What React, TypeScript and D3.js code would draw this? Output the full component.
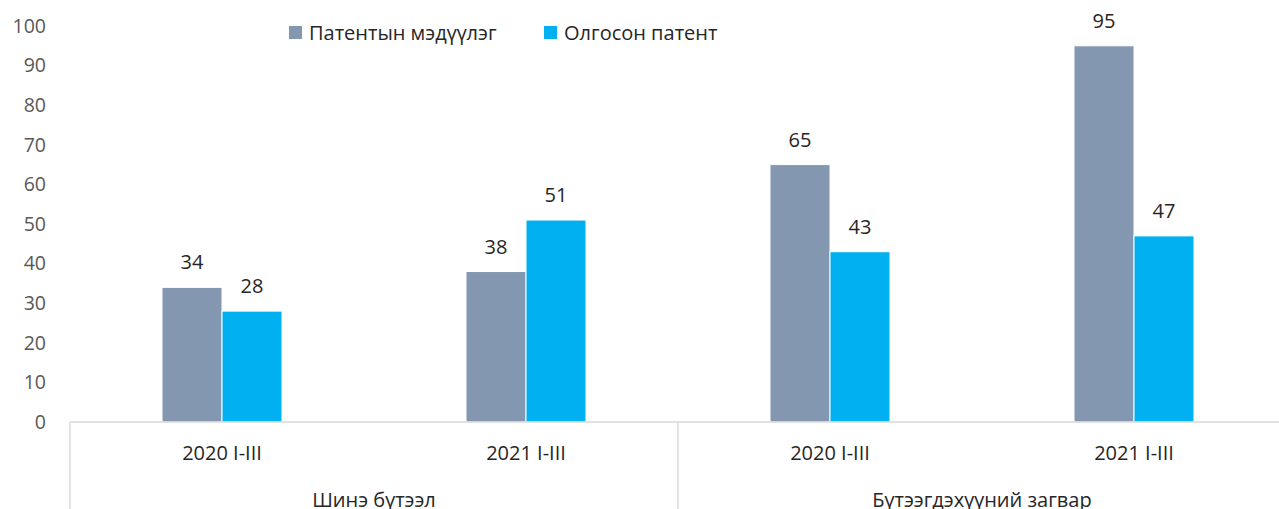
import React from "react";
import * as d3 from "d3";

const groups = ["Шинэ бүтээл", "Бүтээгдэхүүний загвар"];
const periods = ["2020 I-III", "2021 I-III", "2020 I-III", "2021 I-III"];
const categoryGroup = [0, 0, 1, 1];
const seriesNames = ["Патентын мэдүүлэг", "Олгосон патент"];
const applications = [34, 38, 65, 95];
const granted = [28, 51, 43, 47];
const yTicks = [0, 10, 20, 30, 40, 50, 60, 70, 80, 90, 100];
const colors = ["#8497B0", "#00B0F0"];

export default function App() {
  const W = 1279, H = 509;
  const left = 70, right = 1286, top = 26, bottom = 422;
  const x = d3.scaleBand<number>().domain(d3.range(periods.length)).range([left, right]).paddingInner(0).paddingOuter(0);
  const y = d3.scaleLinear().domain([0, 100]).range([bottom, top]);
  const bw = 60;
  const series = [applications, granted];
  const font = "'Open Sans', 'Segoe UI', sans-serif";
  const groupSpans = groups.map((g, gi) => {
    const idx = categoryGroup.map((c, i) => (c === gi ? i : -1)).filter((i) => i >= 0);
    const x0 = x(idx[0])!;
    const x1 = x(idx[idx.length - 1])! + x.bandwidth();
    return { g, x0, x1 };
  });
  return (
    <svg width={W} height={H} style={{ position: "absolute", left: 0, top: 0, background: "#fff" }} fontFamily={font}>
      {yTicks.map((t) => (
        <text key={t} x={46} y={y(t)} dy="0.35em" textAnchor="end" fontSize={19.5} fill="#595959">{t}</text>
      ))}
      {periods.map((p, i) => {
        const cx = x(i)! + x.bandwidth() / 2;
        return (
          <g key={i}>
            {series.map((s, si) => {
              const bx = cx - bw + si * bw;
              return (
                <g key={si}>
                  <rect x={bx} y={y(s[i])} width={bw} height={bottom - y(s[i])} fill={colors[si]} stroke="#fff" strokeWidth={1} />
                  <text x={bx + bw / 2} y={y(s[i]) - 25} dy="0.35em" textAnchor="middle" fontSize={20} fill="#262626">{s[i]}</text>
                </g>
              );
            })}
            <text x={cx} y={453} dy="0.35em" textAnchor="middle" fontSize={20} fill="#262626">{p}</text>
          </g>
        );
      })}
      <line x1={left} x2={W} y1={bottom} y2={bottom} stroke="#D9D9D9" strokeWidth={1.5} />
      {groupSpans.map((s, i) => (
        <g key={i}>
          <line x1={s.x0} x2={s.x0} y1={bottom} y2={H} stroke="#D9D9D9" strokeWidth={1.5} />
          <text x={(s.x0 + s.x1) / 2} y={500} dy="0.35em" textAnchor="middle" fontSize={20} fill="#262626">{s.g}</text>
        </g>
      ))}
      {seriesNames.map((n, i) => {
        const lx = [289, 544][i];
        return (
          <g key={n}>
            <rect x={lx} y={26} width={13} height={13} fill={colors[i]} />
            <text x={lx + 20} y={32.5} dy="0.35em" fontSize={20} fill="#262626">{n}</text>
          </g>
        );
      })}
    </svg>
  );
}
